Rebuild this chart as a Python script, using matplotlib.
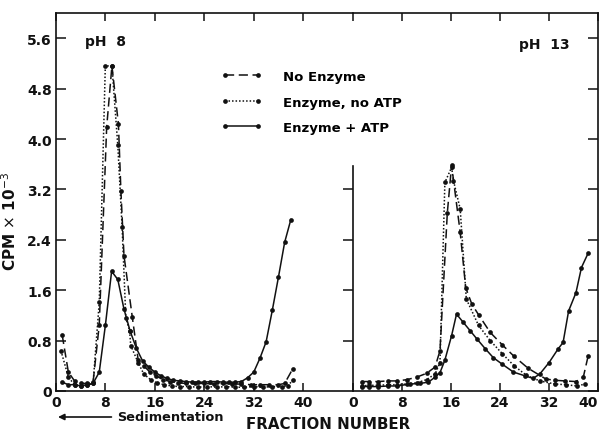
"""Sucrose-gradient profiles at pH 8 and pH 13 (CPM per fraction)."""

import matplotlib
matplotlib.use("Agg")
import matplotlib.pyplot as plt

INK = "#111111"
FONT = "DejaVu Sans"

# ---- pH 8 panel -----------------------------------------------------------
ph8_no_enz_x = [1, 2, 3, 4, 5, 6, 7, 8.2, 9.05, 10.1, 10.5, 11.0, 12.35, 13.3,
                14.2, 15.2, 16.2, 17.3, 18.5, 19.8, 21, 22.5, 24, 25.5, 27,
                28.5, 30, 31.5, 33, 34.5, 36, 37, 38.3]
ph8_no_enz_y = [0.89, 0.30, 0.16, 0.12, 0.12, 0.14, 1.05, 4.19, 5.16, 4.24,
                3.18, 2.15, 1.17, 0.49, 0.40, 0.30, 0.24, 0.18, 0.15, 0.13,
                0.12, 0.12, 0.12, 0.11, 0.12, 0.11, 0.11, 0.10, 0.10, 0.10,
                0.10, 0.12, 0.35]

ph8_no_atp_x = [0.8, 2, 3, 4, 5, 6, 7, 7.98, 9.05, 10.0, 10.7, 11.3, 11.9,
                12.1, 13.3, 14.2, 15.3, 16.3, 17.5, 18.7, 20, 21.5, 23, 24.5,
                26, 27.5, 29, 30.5, 32, 33.5, 35, 36.5, 37.5, 38.3]
ph8_no_atp_y = [0.64, 0.22, 0.10, 0.08, 0.09, 0.12, 1.41, 5.16, 5.16, 3.9,
                2.6, 1.16, 0.96, 0.72, 0.45, 0.27, 0.18, 0.13, 0.10, 0.08,
                0.07, 0.07, 0.06, 0.07, 0.06, 0.07, 0.06, 0.06, 0.07, 0.06,
                0.07, 0.07, 0.08, 0.17]

ph8_atp_x = list(range(1, 39))
ph8_atp_y = [0.14, 0.10, 0.10, 0.08, 0.10, 0.12, 0.30, 1.05, 1.90, 1.77,
             1.30, 0.95, 0.68, 0.48, 0.38, 0.30, 0.24, 0.20, 0.17, 0.16,
             0.15, 0.14, 0.14, 0.14, 0.15, 0.15, 0.14, 0.14, 0.14, 0.15,
             0.21, 0.30, 0.52, 0.78, 1.28, 1.81, 2.36, 2.72]

# ---- pH 13 panel ----------------------------------------------------------
ph13_no_enz_x = [1.4, 2.6, 4.1, 5.7, 7.2, 8.8, 10.4, 12.0, 13.4, 14.2, 15.4,
                 16.1, 17.5, 18.4, 19.4, 20.5, 22.4, 24.4, 26.3, 28.6, 31.5,
                 33.0, 34.6, 36.4, 37.6, 38.4]
ph13_no_enz_y = [0.15, 0.15, 0.15, 0.16, 0.16, 0.18, 0.22, 0.28, 0.38, 0.64,
                 2.83, 3.58, 2.52, 1.64, 1.38, 1.21, 0.93, 0.73, 0.55, 0.36,
                 0.19, 0.17, 0.16, 0.15, 0.22, 0.56]

ph13_no_atp_x = [1.4, 2.6, 4.1, 5.7, 7.2, 8.8, 10.4, 12.0, 13.4, 14.2, 15.0,
                 16.1, 16.4, 17.5, 18.5, 20.5, 22.4, 24.4, 26.3, 28.3, 30.5,
                 33.0, 34.8, 36.5, 37.9]
ph13_no_atp_y = [0.08, 0.09, 0.09, 0.10, 0.10, 0.11, 0.13, 0.18, 0.27, 0.45,
                 3.31, 3.55, 3.34, 2.89, 1.46, 1.04, 0.80, 0.59, 0.40, 0.25,
                 0.16, 0.11, 0.10, 0.08, 0.11]

ph13_atp_x = [1.4, 2.6, 4.1, 5.7, 7.2, 9.3, 10.9, 12.3, 13.4, 14.2, 15.0,
              16.1, 16.9, 18.0, 19.1, 20.2, 21.6, 22.9, 24.3, 26.2, 28.1,
              29.4, 30.5, 32.0, 33.5, 34.3, 35.2, 36.4, 37.3, 38.4]
ph13_atp_y = [0.07, 0.07, 0.07, 0.08, 0.08, 0.11, 0.12, 0.14, 0.22, 0.29,
              0.49, 0.88, 1.22, 1.09, 0.96, 0.83, 0.67, 0.53, 0.43, 0.30,
              0.24, 0.20, 0.27, 0.45, 0.67, 0.77, 1.27, 1.56, 1.96, 2.19]

SERIES_LABELS = ["No Enzyme", "Enzyme, no ATP", "Enzyme + ATP"]
X_TICKS = [0, 8, 16, 24, 32, 40]
Y_TICKS = [0, 0.8, 1.6, 2.4, 3.2, 4.0, 4.8, 5.6]
Y_TICK_LABELS = ["0", "0.8", "1.6", "2.4", "3.2", "4.0", "4.8", "5.6"]
DIVIDER_TICKS = [0.8, 1.6, 2.4, 3.2]

STYLES = [
    dict(linestyle=(0, (6, 3)), marker="o"),
    dict(linestyle=(0, (1, 1.3)), marker="o"),
    dict(linestyle="-", marker="o"),
]
LINE_KW = dict(color=INK, linewidth=1.1, markersize=3.4,
               markerfacecolor=INK, markeredgewidth=0)

plt.rcParams["font.family"] = FONT

fig = plt.figure(figsize=(6.06, 4.39), dpi=100)
fig.patch.set_facecolor("white")

ax1 = fig.add_axes([56 / 606, 47 / 439, 297 / 606, 378 / 439])
ax2 = fig.add_axes([353 / 606, 47 / 439, 245 / 606, 378 / 439])
ax2.patch.set_alpha(0)

handles = []
for (x, y), st in zip([(ph8_no_enz_x, ph8_no_enz_y),
                       (ph8_no_atp_x, ph8_no_atp_y),
                       (ph8_atp_x, ph8_atp_y)], STYLES):
    h, = ax1.plot(x, y, **st, **LINE_KW)
    handles.append(h)
for (x, y), st in zip([(ph13_no_enz_x, ph13_no_enz_y),
                       (ph13_no_atp_x, ph13_no_atp_y),
                       (ph13_atp_x, ph13_atp_y)], STYLES):
    ax2.plot(x, y, **st, **LINE_KW)

for ax in (ax1, ax2):
    ax.set_ylim(0, 6.0)
    for sp in ax.spines.values():
        sp.set_linewidth(1.2)
        sp.set_color(INK)
    ax.set_xticks(X_TICKS)
    ax.tick_params(axis="x", direction="in", top=True, bottom=True,
                   length=6, width=1.1, color=INK, labelsize=10,
                   labelcolor=INK, pad=3)
    for lab in ax.get_xticklabels():
        lab.set_fontweight("bold")

ax1.set_xlim(0, 48.06)
ax2.set_xlim(0, 40)
# the reference crops the last "40" at the page edge; keep it inside
ax2.get_xticklabels()[-1].set_horizontalalignment("right")

ax1.spines["right"].set_visible(False)
ax1.set_yticks(Y_TICKS)
ax1.set_yticklabels(Y_TICK_LABELS, fontweight="bold")
ax1.tick_params(axis="y", direction="in", left=True, right=False, length=7,
                width=1.1, color=INK, labelsize=10, labelcolor=INK, pad=3)

# divider between the two panels: partial spine with outward ticks
ax2.spines["left"].set_bounds(0, 3.57)
ax2.set_yticks(DIVIDER_TICKS)
ax2.tick_params(axis="y", direction="out", left=True, right=False,
                labelleft=False, length=7, width=1.1, color=INK)
sec = ax2.secondary_yaxis("right")
sec.set_yticks(Y_TICKS)
sec.spines["right"].set_visible(False)
sec.tick_params(axis="y", direction="in", length=7, width=1.1, color=INK,
                labelright=False)

ax1.set_ylabel(r"CPM $\times$ 10$^{-3}$", fontsize=11, fontweight="bold",
               color=INK, labelpad=6)
ax1.yaxis.set_label_coords(-0.125, 0.45)

ax1.text(4.7, 5.55, "pH  8", fontsize=10, fontweight="bold", color=INK,
         ha="left", va="center")
ax2.text(35.3, 5.5, "pH  13", fontsize=10, fontweight="bold", color=INK,
         ha="right", va="center")

fig.legend(handles, SERIES_LABELS, loc="upper left",
           bbox_to_anchor=(221 / 606, 1 - 71 / 439), frameon=False,
           numpoints=2, handlelength=3.1, handletextpad=1.6,
           labelspacing=0.95, borderpad=0, borderaxespad=0,
           prop=dict(family=FONT, size=9.5, weight="bold"))

ax1.annotate("Sedimentation", xy=(58 / 606, 1 - 418 / 439),
             xycoords="figure fraction",
             xytext=(117 / 606, 1 - 418 / 439), textcoords="figure fraction",
             ha="left", va="center", fontsize=9.3, fontweight="bold",
             color=INK,
             arrowprops=dict(arrowstyle="-|>", color=INK, lw=1.2,
                             mutation_scale=9, shrinkA=2, shrinkB=0,
                             relpos=(0, 0.5)))

fig.text(328 / 606, 1 - 425 / 439, "FRACTION NUMBER", ha="center",
         va="center", fontsize=10.8, fontweight="bold", color=INK)

fig.savefig("out.png", dpi=100, facecolor="white")
